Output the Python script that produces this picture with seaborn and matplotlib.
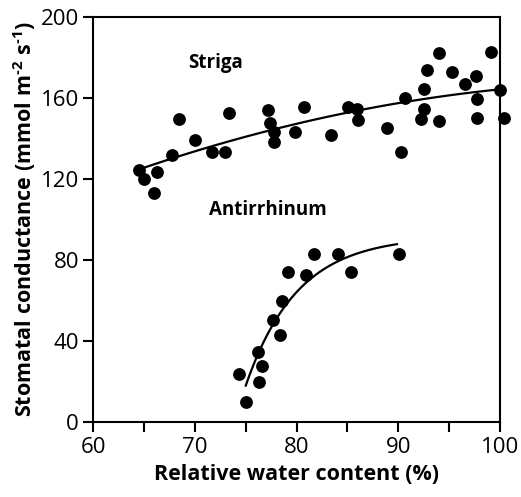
import numpy as np
import pandas as pd
import matplotlib
matplotlib.use("Agg")
import matplotlib.pyplot as plt
import seaborn as sns

# Striga data
striga_rwc = [64.5, 65.0, 66.0, 66.3, 67.8, 68.5, 70.0, 71.7, 73.0, 73.4, 77.2, 77.4,
              77.8, 77.8, 79.9, 80.7, 83.4, 85.1, 85.9, 86.0, 88.9, 90.3, 90.7, 92.2,
              92.5, 92.5, 92.8, 94.0, 94.0, 95.3, 96.6, 97.6, 97.7, 97.7, 99.1, 100.0, 100.4]
striga_gs = [124.4, 119.8, 113.2, 123.3, 131.7, 149.8, 139.3, 133.5, 133.5, 152.7, 154.1, 147.5,
             143.4, 138.1, 143.4, 155.7, 141.6, 155.4, 154.6, 149.3, 145.3, 133.5, 160.2, 149.6,
             154.4, 164.6, 173.6, 182.4, 148.8, 172.7, 166.7, 170.9, 159.7, 150.1, 182.9, 164.0, 150.0]

# Antirrhinum data
antir_rwc = [75.0, 74.35, 76.3, 76.6, 76.2, 78.4, 77.7, 78.6, 79.2, 80.9, 81.7, 84.1, 85.4, 90.1]
antir_gs = [9.9, 23.5, 19.6, 27.7, 34.7, 43.0, 50.4, 59.9, 74.2, 72.6, 83.0, 82.8, 73.9, 83.1]

xticks = [60, 70, 80, 90, 100]
yticks = [0, 40, 80, 120, 160, 200]

sns.set_theme(style="white")
plt.rcParams['font.family'] = ['Open Sans', 'DejaVu Sans']
plt.rcParams['mathtext.fontset'] = 'custom'
plt.rcParams['mathtext.rm'] = 'Open Sans'
plt.rcParams['mathtext.bf'] = 'Open Sans:bold'
plt.rcParams['text.color'] = 'black'
plt.rcParams['axes.labelcolor'] = 'black'
plt.rcParams['xtick.color'] = 'black'
plt.rcParams['ytick.color'] = 'black'

fig = plt.figure(figsize=(5.21, 4.97), dpi=100)
ax = fig.add_axes([93/521, 75/497, 407/521, 405/497])

df_s = pd.DataFrame({"x": striga_rwc, "y": striga_gs})
df_a = pd.DataFrame({"x": antir_rwc, "y": antir_gs})

sns.scatterplot(data=df_s, x="x", y="y", ax=ax, color="black", s=85, edgecolor="black",
                linewidth=0, zorder=3, clip_on=False)
sns.scatterplot(data=df_a, x="x", y="y", ax=ax, color="black", s=85, edgecolor="black",
                linewidth=0, zorder=3, clip_on=False)

# Striga: quadratic regression
sns.regplot(data=df_s, x="x", y="y", order=2, ci=None, scatter=False, ax=ax,
            line_kws=dict(color="black", lw=1.6))

# Antirrhinum: exponential rise-to-maximum fit y = c0 + c1*exp(-k x)
xa = np.array(antir_rwc)
ya = np.array(antir_gs)
best = None
for k in np.linspace(0.05, 0.8, 400):
    A = np.column_stack([np.ones_like(xa), np.exp(-k * (xa - 75))])
    coef, res, _, _ = np.linalg.lstsq(A, ya, rcond=None)
    sse = np.sum((A @ coef - ya) ** 2)
    if best is None or sse < best[0]:
        best = (sse, k, coef)
_, k, coef = best
xf = np.linspace(75.0, 89.9, 200)
yf = coef[0] + coef[1] * np.exp(-k * (xf - 75))
sns.lineplot(x=xf, y=yf, ax=ax, color="black", lw=1.6)

ax.set_xlim(60, 100)
ax.set_ylim(0, 200)
ax.set_xticks(xticks)
ax.set_xticks([65, 75, 85, 95], minor=True)
ax.set_yticks(yticks)
ax.tick_params(axis="both", which="both", direction="out", length=7, width=1.5,
               labelsize=16, colors="black", bottom=True, left=True)
ax.tick_params(axis="x", pad=4)
ax.tick_params(axis="y", pad=3)
for s in ax.spines.values():
    s.set_linewidth(1.5)
    s.set_color("black")

ax.set_xlabel("Relative water content (%)", fontsize=15.5, fontweight="bold", labelpad=4,
              color="black")
ax.set_ylabel("Stomatal conductance (mmol m$^{\\mathbf{\u20102}}$ s$^{\\mathbf{\u20101}}$)",
              fontsize=15.5, fontweight="bold", labelpad=2, color="black")

ax.text(72.0, 177.3, "Striga", fontsize=13.5, fontweight="bold", ha="center", va="center",
        color="black")
ax.text(77.2, 104.7, "Antirrhinum", fontsize=13.5, fontweight="bold", ha="center", va="center",
        color="black")

fig.savefig("out.png", dpi=100)
